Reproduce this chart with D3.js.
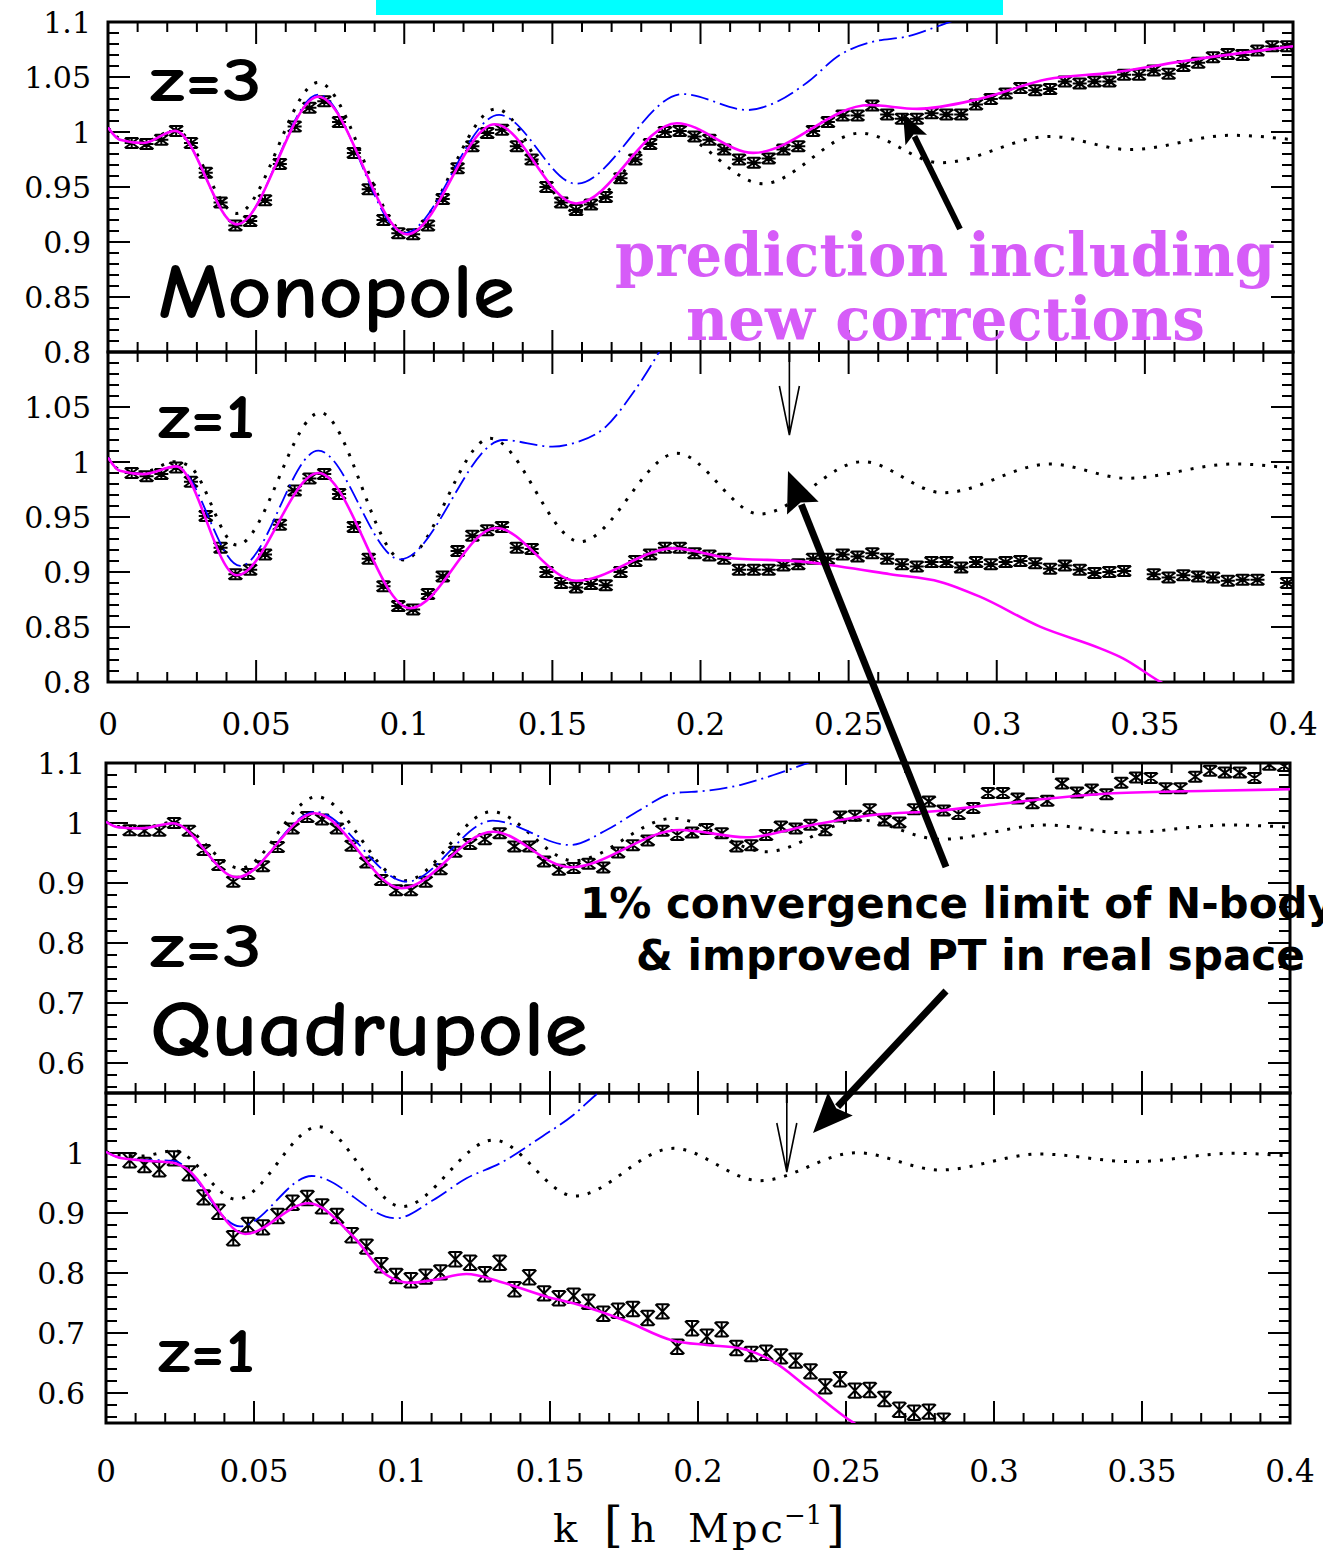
<!DOCTYPE html>
<html>
<head>
<meta charset="utf-8">
<script src="https://cdn.jsdelivr.net/npm/d3@7"></script>
<style>
  body { margin: 0; background: #fff; }
</style>
</head>
<body>
<div id="chart"></div>
<script>
// ---- data: k bins of the simulation points (h/Mpc)
const kBins = [
  0.008,0.013,0.018,0.023,0.028,0.033,0.038,0.043,0.048,0.053,
  0.058,0.063,0.068,0.073,0.078,0.083,0.088,0.093,0.098,0.103,
  0.108,0.113,0.118,0.123,0.128,0.133,0.138,0.143,0.148,0.153,
  0.158,0.163,0.168,0.173,0.178,0.183,0.188,0.193,0.198,0.203,
  0.208,0.213,0.218,0.223,0.228,0.233,0.238,0.243,0.248,0.253,
  0.258,0.263,0.268,0.273,0.278,0.283,0.288,0.293,0.298,0.303,
  0.308,0.313,0.318,0.323,0.328,0.333,0.338,0.343,0.348,0.353,
  0.358,0.363,0.368,0.373,0.378,0.383,0.388,0.393,0.398
];

// N-body points (ratio), one value per k bin, null = no point shown
const mono3Data = [
  0.990,0.989,0.993,1.001,0.990,0.963,0.936,0.915,0.919,0.938,
  0.971,1.005,1.022,1.028,1.009,0.981,0.948,0.920,0.908,0.907,
  0.915,0.939,0.967,0.987,0.999,1.002,0.987,0.975,0.950,0.936,
  0.929,0.934,0.941,0.958,0.975,0.989,1.000,1.001,0.996,0.993,
  0.984,0.975,0.972,0.976,0.984,0.987,1.001,1.009,1.015,1.015,
  1.024,1.016,1.012,1.012,1.017,1.016,1.016,1.025,1.030,1.035,
  1.040,1.038,1.039,1.046,1.044,1.046,1.046,1.052,1.052,1.056,
  1.053,1.060,1.063,1.068,1.071,1.070,1.074,1.078,1.078
];
const mono1Data = [
  0.990,0.987,0.989,0.995,0.982,0.951,0.922,0.898,0.902,0.916,
  0.943,0.974,0.985,0.989,0.971,0.941,0.912,0.887,0.869,0.866,
  0.880,0.896,0.919,0.933,0.938,0.941,0.922,0.921,0.900,0.890,
  0.886,0.889,0.888,0.900,0.910,0.916,0.922,0.922,0.917,0.915,
  0.912,0.902,0.902,0.902,0.906,0.907,0.912,0.912,0.916,0.914,
  0.917,0.912,0.907,0.905,0.909,0.909,0.904,0.909,0.907,0.909,
  0.910,0.908,0.903,0.906,0.902,0.899,0.900,0.901,null,0.898,
  0.895,0.897,0.896,0.895,0.892,0.893,0.893,null,0.890
];
const quad3Data = [
  0.988,0.987,0.987,1.000,0.987,0.955,0.930,0.902,0.915,0.928,
  0.960,0.991,1.010,1.006,0.991,0.962,0.934,0.905,0.888,0.888,
  0.902,0.923,0.952,0.965,0.973,0.983,0.961,0.961,0.936,0.922,
  0.925,0.932,0.926,0.951,0.963,0.971,0.987,0.980,0.984,0.990,
  0.983,0.961,0.963,0.980,0.994,0.991,0.997,0.988,1.011,1.012,
  1.023,1.004,1.001,1.023,1.036,1.021,1.015,1.025,1.050,1.050,
  1.041,1.033,1.037,1.066,1.051,1.056,1.048,1.067,1.076,1.075,
  1.058,1.058,1.077,1.087,1.084,1.084,1.075,1.097,1.095
];
const quad1Data = [
  0.988,0.980,0.973,0.991,0.966,0.926,0.902,0.858,0.880,0.876,
  0.895,0.917,0.925,0.911,0.895,0.863,0.844,0.813,0.795,0.788,
  0.794,0.801,0.823,0.817,0.798,0.817,0.773,0.793,0.766,0.758,
  0.762,0.752,0.732,0.737,0.740,0.725,0.736,0.677,0.708,0.694,
  0.706,0.675,0.665,0.667,0.661,0.654,0.636,0.611,0.623,0.604,
  0.605,0.590,0.572,0.567,0.569,0.554
];

// model curves, [k, ratio]
// magenta: prediction including new corrections
const mono3Pred = [[0,1.004],[0.004,0.993],[0.012,0.990],[0.0226,1.001],[0.0435,0.916],[0.071,1.032],[0.101,0.907],[0.1306,1.007],[0.158,0.935],[0.192,1.008],[0.2178,0.981],[0.257,1.0245],[0.273,1.021],[0.294,1.030],[0.317,1.048],[0.339,1.054],[0.362,1.064],[0.4,1.078]];
const mono1Pred = [[0,1.004],[0.004,0.992],[0.012,0.989],[0.023,0.996],[0.0435,0.897],[0.071,0.990],[0.102,0.867],[0.131,0.940],[0.158,0.892],[0.191,0.9215],[0.209,0.913],[0.236,0.909],[0.247,0.905],[0.264,0.898],[0.281,0.891],[0.2943,0.8776],[0.3146,0.8503],[0.3349,0.8306],[0.3426,0.8215],[0.3551,0.8003],[0.36,0.793]];
const quad3Pred = [[0,1.002],[0.004,0.993],[0.012,0.991],[0.0226,0.9995],[0.0442,0.9095],[0.0706,1.0162],[0.0999,0.8912],[0.1307,0.9855],[0.1568,0.9262],[0.1939,0.9883],[0.2164,0.9762],[0.2367,0.995],[0.2592,1.0133],[0.2818,1.0205],[0.2986,1.03],[0.3403,1.0495],[0.374,1.0538],[0.4,1.0562]];
const quad1Pred = [[0,1.002],[0.004,0.993],[0.0105,0.9883],[0.0226,0.9838],[0.0262,0.977],[0.047,0.865],[0.0684,0.9162],[0.0836,0.8605],[0.0948,0.7967],[0.1027,0.7838],[0.1106,0.7883],[0.1218,0.7983],[0.1331,0.7855],[0.1489,0.7605],[0.1579,0.7495],[0.1748,0.7217],[0.1917,0.6872],[0.2029,0.68],[0.2142,0.6745],[0.2255,0.6522],[0.2367,0.6105],[0.2525,0.5505],[0.256,0.54]];

// blue dash-dot: standard PT
const mono3PT = [[0,1.004],[0.004,0.993],[0.012,0.990],[0.0226,1.001],[0.0435,0.916],[0.071,1.034],[0.1,0.908],[0.132,1.0155],[0.158,0.953],[0.194,1.0345],[0.216,1.02],[0.2246,1.026],[0.236,1.045],[0.247,1.07],[0.258,1.082],[0.27,1.087],[0.281,1.097],[0.29,1.106]];
const mono1PT = [[0,1.004],[0.004,0.992],[0.012,0.989],[0.023,0.996],[0.0446,0.9055],[0.071,1.0103],[0.0986,0.9115],[0.1334,1.02],[0.15,1.0139],[0.157,1.017],[0.168,1.032],[0.177,1.062],[0.186,1.1],[0.19,1.12]];
const quad3PT = [[0,1.002],[0.004,0.993],[0.012,0.991],[0.0226,0.9995],[0.0442,0.9095],[0.0706,1.0188],[0.1016,0.9022],[0.1307,1.0038],[0.1568,0.9633],[0.1691,0.9883],[0.1804,1.0217],[0.1916,1.0495],[0.2029,1.0538],[0.2142,1.0633],[0.2255,1.08],[0.2367,1.0995],[0.245,1.115]];
const quad1PT = [[0,1.002],[0.004,0.993],[0.0105,0.989],[0.0226,0.9872],[0.0453,0.8778],[0.0695,0.9617],[0.098,0.8912],[0.1106,0.9217],[0.1218,0.9578],[0.1331,0.9828],[0.1475,1.028],[0.1579,1.0633],[0.1662,1.1],[0.17,1.115]];

// black dotted: linear theory
const mono3Lin = [[0,1.004],[0.004,0.994],[0.012,0.991],[0.0226,1.002],[0.0435,0.926],[0.071,1.045],[0.101,0.908],[0.131,1.021],[0.158,0.927],[0.19,1.0],[0.221,0.953],[0.254,0.999],[0.281,0.972],[0.318,0.996],[0.345,0.984],[0.379,0.997],[0.4,0.993]];
const mono1Lin = [[0,1.004],[0.004,0.993],[0.012,0.991],[0.0226,1.0003],[0.0277,0.9957],[0.0435,0.9245],[0.0716,1.0448],[0.0996,0.911],[0.129,1.0215],[0.1593,0.9276],[0.192,1.0079],[0.220,0.9527],[0.2548,1.0003],[0.2819,0.972],[0.318,0.9982],[0.344,0.9852],[0.38,0.9982],[0.4,0.9942]];
const quad3Lin = [[0,1.002],[0.004,0.994],[0.012,0.992],[0.0226,1.001],[0.0453,0.9245],[0.0712,1.0438],[0.101,0.9038],[0.1303,1.0188],[0.158,0.937],[0.1916,1.0078],[0.2232,0.9522],[0.2547,1.005],[0.2818,0.9728],[0.3178,0.9967],[0.3437,0.9838],[0.3797,0.9967],[0.4,0.9928]];
const quad1Lin = [[0,1.002],[0.004,0.997],[0.012,0.995],[0.023,1.0038],[0.0441,0.9228],[0.0718,1.0438],[0.1,0.9105],[0.1309,1.0217],[0.1583,0.9283],[0.1917,1.0078],[0.2209,0.9538],[0.2536,1.0005],[0.2818,0.9717],[0.3155,0.9983],[0.347,0.9855],[0.3808,0.9995],[0.4,0.995]];

// ticks and labels
const xTickVals = [0,0.05,0.1,0.15,0.2,0.25,0.3,0.35,0.4];
const xTickLabels = ["0","0.05","0.1","0.15","0.2","0.25","0.3","0.35","0.4"];
const monoTopVals = [1.1,1.05,1,0.95,0.9,0.85,0.8];
const monoTopLabels = ["1.1","1.05","1","0.95","0.9","0.85","0.8"];
const monoBotVals = [1.05,1,0.95,0.9,0.85,0.8];
const monoBotLabels = ["1.05","1","0.95","0.9","0.85","0.8"];
const quadTopVals = [1.1,1,0.9,0.8,0.7,0.6];
const quadTopLabels = ["1.1","1","0.9","0.8","0.7","0.6"];
const quadBotVals = [1,0.9,0.8,0.7,0.6];
const quadBotLabels = ["1","0.9","0.8","0.7","0.6"];
const kLimit = 0.23;   // 1% convergence limit marked by thin arrows

// ---- drawing
const svg = d3.select("#chart").append("svg")
    .attr("width", 1323).attr("height", 1556)
    .style("font-family", "'DejaVu Serif', serif");

// cyan strip at the top
svg.append("rect").attr("x", 376).attr("y", 0).attr("width", 627).attr("height", 15).attr("fill", "#00ffff");

const xTop = d3.scaleLinear().domain([0, 0.4]).range([108, 1293]);
const xBot = d3.scaleLinear().domain([0, 0.4]).range([106, 1290]);

const panels = [
  {id: "p1", x: xTop, y: d3.scaleLinear().domain([0.8, 1.1]).range([352, 22]), mono: true,
   data: mono3Data, pred: mono3Pred, pt: mono3PT, lin: mono3Lin, err: 0.004,
   yv: monoTopVals, yl: monoTopLabels},
  {id: "p2", x: xTop, y: d3.scaleLinear().domain([0.8, 1.1]).range([682, 352]), mono: true,
   data: mono1Data, pred: mono1Pred, pt: mono1PT, lin: mono1Lin, err: 0.004,
   yv: monoBotVals, yl: monoBotLabels, xlab: 735},
  {id: "p3", x: xBot, y: d3.scaleLinear().domain([0.55, 1.1]).range([1093, 763]), mono: false,
   data: quad3Data, pred: quad3Pred, pt: quad3PT, lin: quad3Lin, err: 0.008,
   yv: quadTopVals, yl: quadTopLabels},
  {id: "p4", x: xBot, y: d3.scaleLinear().domain([0.55, 1.1]).range([1423, 1093]), mono: false,
   data: quad1Data, pred: quad1Pred, pt: quad1PT, lin: quad1Lin, err: 0.012,
   yv: quadBotVals, yl: quadBotLabels, xlab: 1482}
];

panels.forEach(p => {
  const x = p.x, y = p.y;
  const [x0, x1] = x.range();
  const [yb, yt] = y.range();
  const g = svg.append("g");

  g.append("clipPath").attr("id", "clip-" + p.id)
    .append("rect").attr("x", x0).attr("y", yt).attr("width", x1 - x0).attr("height", yb - yt);

  // ticks, all four sides, pointing inward
  d3.range(0, 41).forEach(i => {
    const len = i % 5 === 0 ? 22 : 10;
    const px = x(i / 100);
    g.append("line").attr("x1", px).attr("x2", px).attr("y1", yb).attr("y2", yb - len);
    g.append("line").attr("x1", px).attr("x2", px).attr("y1", yt).attr("y2", yt + len);
  });
  const yTicks = p.mono ? d3.range(80, 111) : d3.range(56, 111, 2);
  yTicks.forEach(i => {
    const len = (p.mono ? i % 5 === 0 : i % 10 === 0) ? 22 : 11;
    const py = y(i / 100);
    g.append("line").attr("x1", x0).attr("x2", x0 + len).attr("y1", py).attr("y2", py);
    g.append("line").attr("x1", x1).attr("x2", x1 - len).attr("y1", py).attr("y2", py);
  });
  g.selectAll("line").attr("stroke", "#000").attr("stroke-width", 2);

  g.append("rect").attr("x", x0).attr("y", yt).attr("width", x1 - x0).attr("height", yb - yt)
    .attr("fill", "none").attr("stroke", "#000").attr("stroke-width", 3);

  // y labels
  g.selectAll("text.yl").data(p.yv).join("text")
    .attr("x", x0 - (p.mono ? 17 : 21)).attr("y", d => y(d)).attr("dy", "0.36em")
    .attr("text-anchor", "end").attr("font-size", 30)
    .text((d, i) => p.yl[i]);

  // x labels
  if (p.xlab) {
    g.selectAll("text.xl").data(xTickVals).join("text")
      .attr("x", d => x(d)).attr("y", p.xlab)
      .attr("text-anchor", "middle").attr("font-size", 31)
      .text((d, i) => xTickLabels[i]);
  }

  const plot = g.append("g").attr("clip-path", `url(#clip-${p.id})`);
  const line = d3.line().x(d => x(d[0])).y(d => y(d[1])).curve(d3.curveMonotoneX);

  // N-body points with error bars
  const h = Math.max(5, Math.abs(y(1) - y(1 + p.err)));
  const pts = kBins.map((k, i) => [k, p.data[i]]).filter(d => d[1] != null);
  plot.selectAll("path.pt").data(pts).join("path")
    .attr("transform", d => `translate(${x(d[0])},${y(d[1])})`)
    .attr("d", `M-7,${-h}L7,${h}M-7,${h}L7,${-h}M-6,${-h}H6M-6,${h}H6M0,${-h}V${h}` + (p.mono ? "M-7,0H7" : ""))
    .attr("fill", "none").attr("stroke", "#000").attr("stroke-width", 2);

  plot.append("path").datum(p.lin).attr("d", line)
    .attr("fill", "none").attr("stroke", "#000").attr("stroke-width", 3)
    .attr("stroke-dasharray", "3,9");
  plot.append("path").datum(p.pt).attr("d", line)
    .attr("fill", "none").attr("stroke", "#0000ff").attr("stroke-width", 1.8)
    .attr("stroke-dasharray", "18,5,2,5");
  plot.append("path").datum(p.pred).attr("d", line)
    .attr("fill", "none").attr("stroke", "#ff00ff").attr("stroke-width", 2.6);
});

// thin arrows marking the convergence limit
function thinArrow(px, yA, yB) {
  svg.append("path")
    .attr("d", `M${px},${yA}V${yB}M${px - 10},${yB - 49}L${px},${yB}L${px + 10},${yB - 49}`)
    .attr("fill", "none").attr("stroke", "#000").attr("stroke-width", 1.6);
}
thinArrow(xTop(kLimit), 352, 435);
thinArrow(xBot(kLimit), 1093, 1172);

// thick annotation arrows
function bigArrow(x1, y1, x2, y2, len, half, w) {
  const dx = x2 - x1, dy = y2 - y1, L = Math.hypot(dx, dy), ux = dx / L, uy = dy / L;
  const bx = x2 - ux * len, by = y2 - uy * len;
  svg.append("line").attr("x1", x1).attr("y1", y1).attr("x2", bx + ux * 4).attr("y2", by + uy * 4)
    .attr("stroke", "#000").attr("stroke-width", w);
  svg.append("path")
    .attr("d", `M${x2},${y2}L${bx - uy * half},${by + ux * half}L${bx + ux * 6},${by + uy * 6}L${bx + uy * half},${by - ux * half}Z`)
    .attr("fill", "#000");
}
bigArrow(960, 229, 903, 113, 30, 12, 6);
bigArrow(946, 867, 788, 471, 40, 17, 7);
bigArrow(946, 991, 813, 1133, 40, 17, 7);

// panel captions
const comic = "'Comic Sans MS', 'Comic Neue', Lato, 'Noto Sans', sans-serif";
function caption(txt, x, yb, size, len, weight) {
  svg.append("text").attr("x", x).attr("y", yb)
    .attr("font-family", comic).attr("font-size", size).attr("font-weight", weight)
    .attr("textLength", len).attr("lengthAdjust", "spacingAndGlyphs")
    .text(txt);
}
caption("z=3", 150, 101, 62, 112, 700);
caption("Monopole", 158, 318, 78, 357, 600);
caption("z=1", 158, 438, 62, 97, 700);
caption("z=3", 150, 967, 62, 112, 700);
caption("Quadrupole", 150, 1056, 80, 438, 600);
caption("z=1", 158, 1372, 62, 97, 700);

// violet annotation
svg.append("text").attr("x", 615).attr("y", 276)
  .attr("font-family", "'DejaVu Serif', serif").attr("font-weight", 700).attr("font-size", 60)
  .attr("fill", "#d65cf8").attr("textLength", 660).attr("lengthAdjust", "spacingAndGlyphs")
  .text("prediction including");
svg.append("text").attr("x", 686).attr("y", 340)
  .attr("font-family", "'DejaVu Serif', serif").attr("font-weight", 700).attr("font-size", 60)
  .attr("fill", "#d65cf8").attr("textLength", 519).attr("lengthAdjust", "spacingAndGlyphs")
  .text("new corrections");

// black annotation (runs off the right edge, as in the original)
svg.append("text").attr("x", 580).attr("y", 918)
  .attr("font-family", "'DejaVu Sans', sans-serif").attr("font-weight", 700).attr("font-size", 42)
  .text("1% convergence limit of N-body");
svg.append("text").attr("x", 636).attr("y", 970)
  .attr("font-family", "'DejaVu Sans', sans-serif").attr("font-weight", 700).attr("font-size", 42)
  .attr("textLength", 669).attr("lengthAdjust", "spacingAndGlyphs")
  .text("& improved PT in real space");

// x axis title
const xt = svg.append("text").attr("y", 1542).attr("font-size", 40);
xt.append("tspan").attr("x", 553).text("k");
xt.append("tspan").attr("x", 604).attr("font-size", 48).attr("font-weight", 300).text("[");
xt.append("tspan").attr("x", 630).text("h");
xt.append("tspan").attr("x", 688).attr("letter-spacing", 3).text("Mpc");
xt.append("tspan").attr("x", 784).attr("y", 1524).attr("font-size", 26).text("−1");
xt.append("tspan").attr("x", 826).attr("y", 1542).attr("font-size", 48).attr("font-weight", 300).text("]");
</script>
</body>
</html>
